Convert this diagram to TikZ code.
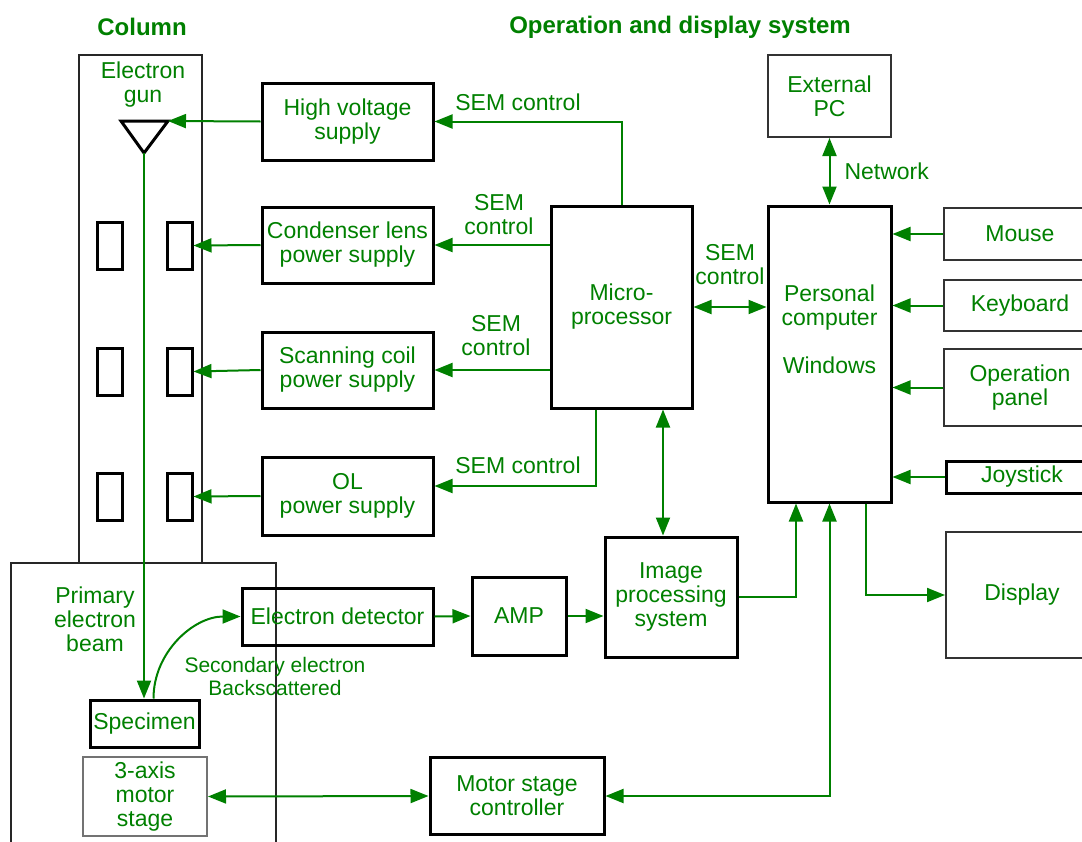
\documentclass[tikz,border=0pt]{standalone}
\usepackage{fontspec}
\setmainfont{Liberation Sans}
\usetikzlibrary{arrows.meta, positioning, calc}

\definecolor{semgreen}{RGB}{0,128,0}

\tikzset{
  blk/.style={draw, line width=3pt, align=center, text=semgreen, inner sep=0pt},
  thinbox/.style={draw=black!80, line width=2pt, align=center, text=semgreen, inner sep=0pt},
  ps/.style={blk, minimum width=171pt},
  coil/.style={draw, line width=3pt, minimum width=25pt, minimum height=47pt, inner sep=0pt},
  lbl/.style={text=semgreen, align=center, inner sep=0pt},
  head/.style={text=semgreen, font=\bfseries\fontsize{24}{26}\selectfont, inner sep=0pt},
  frame/.style={draw=black!85, line width=1.6pt},
  arr/.style={semgreen, line width=2pt, -{Triangle[length=18pt,width=14pt]}},
  darr/.style={semgreen, line width=2pt, {Triangle[length=18pt,width=14pt]}-{Triangle[length=18pt,width=14pt]}}
}

\begin{document}
\begin{tikzpicture}[x=1pt, y=-1pt, font=\fontsize{23}{24}\selectfont]
  \useasboundingbox (0,0) rectangle (1082,841);

  % titles
  \node[head] (coltitle) at (142,27) {Column};
  \node[head] (optitle) at (680,27) {Operation and display system};

  % column and specimen chamber
  \draw[frame] (79,55) rectangle (202,563);
  \draw[frame] (11,845) -- (11,563) -- (276,563) -- (276,845);

  % electron gun
  \node[lbl] (gunlbl) at (143,85) {Electron\\gun};
  \draw[line width=3pt] (121,121) -- (168,121) -- (144,153) -- cycle;
  \coordinate (gunr) at (168,121);
  \coordinate (gunb) at (144,153);

  % lens coils
  \foreach \n/\y in {1/245.5, 2/371.5, 3/496.5} {
    \node[coil] (cl\n) at (109.5,\y) {};
    \node[coil] (cr\n) at (179.5,\y) {};
  }

  % power supplies
  \node[ps, minimum height=77pt] (hv) at (347.5,121.5) {High voltage\\supply};
  \node[ps, minimum height=76pt] (cond) at (347.5,245) {Condenser lens\\power supply};
  \node[ps, minimum height=76pt] (scan) at (347.5,370) {Scanning coil\\power supply};
  \node[ps, minimum height=78pt] (ol) at (347.5,496) {OL\\power supply};

  % control side
  \node[blk, minimum width=141pt, minimum height=202pt] (micro) at (621.5,307) {Micro-\\processor};
  \node[blk, minimum width=123pt, minimum height=296pt] (pc) at (829.5,354) {};
  \node[lbl] (pctxt) at (829.5,329) {Personal\\computer\\[24pt]Windows};
  \node[thinbox, minimum width=123pt, minimum height=82pt] (extpc) at (829.5,96) {External\\PC};

  \node[thinbox, minimum width=152pt, minimum height=52pt] (mouse) at (1020,234) {Mouse};
  \node[thinbox, minimum width=152pt, minimum height=51pt] (kbd) at (1020,305.5) {Keyboard};
  \node[thinbox, minimum width=152pt, minimum height=77pt] (panel) at (1020,387.5) {Operation\\panel};
  \node[blk, minimum width=152pt, minimum height=32pt] (joy) at (1022,477) {Joystick};
  \node[thinbox, minimum width=152pt, minimum height=126pt] (disp) at (1022,595) {Display};

  % signal chain
  \node[blk, minimum width=191pt, minimum height=57pt] (det) at (337.5,616.5) {Electron detector};
  \node[blk, minimum width=94pt, minimum height=78pt] (amp) at (519,616) {AMP};
  \node[blk, minimum width=132pt, minimum height=120pt] (img) at (671,597) {Image\\processing\\system};
  \node[blk, minimum width=174pt, minimum height=77pt] (msc) at (517,796) {Motor stage\\controller};
  \node[blk, minimum width=109pt, minimum height=47pt] (spec) at (144.5,723.5) {Specimen};
  \node[thinbox, draw=black!55, minimum width=124pt, minimum height=79pt] (stage) at (145,796.5) {3-axis\\motor\\stage};

  % column connections
  \draw[arr] (hv.west) -- (gunr);
  \draw[arr] (cond.west) -- (cr1.east);
  \draw[arr] (scan.west) -- (cr2.east);
  \draw[arr] (ol.west) -- (cr3.east);
  \draw[arr] (gunb) -- (gunb |- spec.north);
  \draw[arr] ($(spec.north)+(9,0)$) to[out=90, in=180] (det.west);

  % SEM control lines
  \draw[arr] (micro.north) |- (hv.east);
  \draw[arr] (micro.west |- cond.east) -- (cond.east);
  \draw[arr] (micro.west |- scan.east) -- (scan.east);
  \draw[arr] ($(micro.south)+(-25.5,0)$) |- ([yshift=10pt]ol.east);
  \draw[darr] (micro.east) -- (micro.east -| pc.west);
  \coordinate (mi) at ($(micro.south)+(41.5,0)$);
  \draw[darr] (mi) -- (mi |- img.north);

  % PC connections
  \draw[darr] (extpc) -- node[lbl, right=14pt] {Network} (pc);
  \foreach \s in {mouse, kbd, panel, joy}
    \draw[arr] (\s.west) -- (\s.west -| pc.east);
  \draw[arr] ($(pc.south)+(36.5,0)$) |- (disp.west);
  \draw[arr] (img.east) -| ($(pc.south)+(-33.5,0)$);
  \draw[darr] (msc.east) -| (pc.south);

  % detector chain and stage
  \draw[arr] (det.east) -- (amp.west);
  \draw[arr] (amp.east) -- (amp.east -| img.west);
  \draw[darr] (stage.east) -- (msc.west);

  % labels
  \node[lbl] (semhv) at (518,102) {SEM control};
  \node[lbl] (semcond) at (499,215) {SEM\\control};
  \node[lbl] (semscan) at (496,336) {SEM\\control};
  \node[lbl] (semol) at (518,465) {SEM control};
  \node[lbl] (sempc) at (730,265) {SEM\\control};
  \node[lbl] (beamlbl) at (95,619) {Primary\\electron\\beam};
  \node[lbl, font=\fontsize{21}{23}\selectfont] (seclbl) at (275,676) {Secondary electron\\Backscattered};
\end{tikzpicture}
\end{document}
